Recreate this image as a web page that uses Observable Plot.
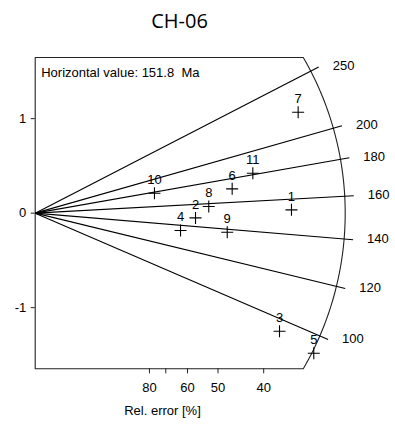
<!DOCTYPE html>
<html>
<head>
<meta charset="utf-8">
<script src="https://cdn.jsdelivr.net/npm/d3@7"></script>
<script src="https://cdn.jsdelivr.net/npm/@observablehq/plot@0.6"></script>
<style>
  html, body { margin: 0; padding: 0; background: #fff; }
  #chart svg { display: block; }
</style>
</head>
<body>
<div id="chart"></div>
<script>
// Radial plot of single-grain ages, sample CH-06
const sampleName = "CH-06";
const centralAge = 151.8;
const ageUnit = "Ma";

// Age rays (Ma)
const rayAges = [100, 120, 140, 160, 180, 200, 250];

// Grains: precision (1/σ) and standardised estimate
const grainIds      = [1, 2, 3, 4, 5, 6, 7, 8, 9, 10, 11];
const precision     = [2.804, 1.754, 2.673, 1.590, 3.048, 2.155, 2.877, 1.899, 2.101, 1.305, 2.381];
const standardScore = [0.035, -0.050, -1.250, -0.184, -1.483, 0.257, 1.068, 0.070, -0.202, 0.211, 0.422];

// Bottom axis: relative error ticks (%)
const relErrorTicks  = [80, 70, 60, 50, 40];
const relErrorLabels = ["80", "", "60", "50", "40"];
const yTicks = [-1, 0, 1];

// Layout
const W = 395, H = 424;
const margin = {top: 57, right: 105.7, bottom: 55.7, left: 34.7};
const xDomain = [0, 2.7856];
const yDomain = [-1.647, 1.647];
const kx = (W - margin.left - margin.right) / (xDomain[1] - xDomain[0]);
const ky = (H - margin.top - margin.bottom) / (yDomain[1] - yDomain[0]);
const arcRadius = 310;  // px
const rayRadius = 319;  // px

// Outline: y axis, top edge, arc, bottom edge
const yTop = yDomain[1], yBot = yDomain[0];
const phiC = Math.asin(yTop * ky / arcRadius);
const arc = d3.range(61).map(i => {
  const phi = phiC - (2 * phiC * i) / 60;
  return {x: arcRadius / kx * Math.cos(phi), y: arcRadius / ky * Math.sin(phi)};
});
const outline = [{x: 0, y: yTop}, ...arc, {x: 0, y: yBot}, {x: 0, y: yTop}];

// Rays from the origin, slope = ln(t / t0)
const rays = rayAges.map(t => {
  const s = Math.log(t / centralAge);
  const ex = rayRadius / Math.hypot(kx, ky * s);
  return {age: t, x: ex, y: s * ex};
});

const grains = grainIds.map((id, i) => ({id, x: precision[i], y: standardScore[i]}));

// Line-drawn "+" marker
const cross = {
  draw(ctx) {
    ctx.moveTo(-6, 0); ctx.lineTo(6, 0);
    ctx.moveTo(0, -6); ctx.lineTo(0, 6);
  }
};

const font = "'Liberation Sans', Arial, Helvetica, sans-serif";

const chart = Plot.plot({
  width: W,
  height: H,
  marginTop: margin.top,
  marginRight: margin.right,
  marginBottom: margin.bottom,
  marginLeft: margin.left,
  style: {fontFamily: font, fontSize: "13px", background: "#fff", color: "#000"},
  x: {domain: xDomain},
  y: {domain: yDomain},
  marks: [
    Plot.line(outline, {x: "x", y: "y", stroke: "#222", strokeWidth: 1.1}),
    Plot.link(rays, {x1: () => 0, y1: () => 0, x2: "x", y2: "y", stroke: "#000", strokeWidth: 1.1}),
    Plot.text(rays, {x: "x", y: "y", text: d => String(d.age), textAnchor: "start", lineAnchor: "middle",
      dx: 14, dy: -1, fontSize: 13, fill: "#000"}),
    Plot.dot(grains, {x: "x", y: "y", symbol: cross, r: 4, stroke: "#000", fill: "none", strokeWidth: 1.1}),
    Plot.text(grains, {x: "x", y: "y", text: d => String(d.id), lineAnchor: "middle", dy: -13.5,
      fontSize: 13, fill: "#000"}),
    Plot.axisY(yTicks, {tickSize: 4, tickPadding: 5, fontSize: 13, label: null, stroke: "#222",
      tickFormat: d => String(d)}),
    Plot.axisX(relErrorTicks.map(e => 100 / e), {
      tickSize: 5, tickPadding: 9, fontSize: 13, label: null, stroke: "#222",
      tickFormat: d => relErrorLabels[relErrorTicks.indexOf(Math.round(100 / d))]
    }),
    Plot.text(["Rel. error [%]"], {frameAnchor: "bottom", lineAnchor: "middle", dy: 41.7, fontSize: 13, fill: "#000"}),
    Plot.text([`Horizontal value: ${centralAge}  ${ageUnit}`], {frameAnchor: "top-left", textAnchor: "start",
      lineAnchor: "middle", dx: 6, dy: 15, fontSize: 13, fill: "#000"}),
    Plot.text([sampleName], {frameAnchor: "top", lineAnchor: "middle", dx: 17, dy: -36,
      fontSize: 20, fontFamily: "'Open Sans', 'Noto Sans', sans-serif", fill: "#000"})
  ]
});

document.getElementById("chart").appendChild(chart);
</script>
</body>
</html>
